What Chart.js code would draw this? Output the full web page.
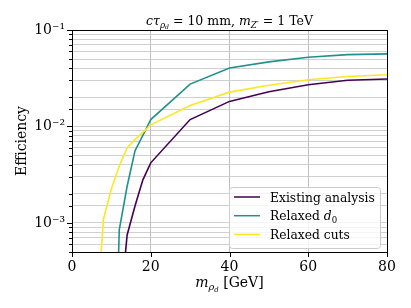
<!DOCTYPE html>
<html>
<head>
<meta charset="utf-8">
<script src="https://cdn.jsdelivr.net/npm/chart.js@4/dist/chart.umd.min.js"></script>
<style>
  body { margin: 0; background: #fff; }
  canvas { display: block; }
</style>
</head>
<body>
<canvas id="chart" width="411" height="308"></canvas>
<script>
// dark pion mass points [GeV]
const masses = [6, 8, 10, 12, 14, 16, 18, 20, 30, 40, 50, 60, 70, 80];

// efficiencies (values below 5e-4 are clipped by the axis)
const existing = [null, null, null, 1.0e-4, 7.5e-4, 1.5e-3, 2.8e-3, 4.2e-3, 0.0118, 0.0182, 0.0229, 0.0271, 0.0301, 0.0310];
const relaxedD0 = [null, null, 1e-6, 8.5e-4, 2.4e-3, 5.6e-3, 8.1e-3, 0.0118, 0.0275, 0.0404, 0.0467, 0.0521, 0.0556, 0.0565];
const relaxedCuts = [7.4e-5, 1.1e-3, 2.25e-3, 3.9e-3, 6.0e-3, 7.3e-3, 8.7e-3, 0.0104, 0.0165, 0.0227, 0.0268, 0.0305, 0.0330, 0.0344];

const seriesNames = ["Existing analysis", "Relaxed d0", "Relaxed cuts"];
const seriesColors = ["#440154", "#21918c", "#fde725"];

const xTicks = [0, 20, 40, 60, 80];
const yMin = 5e-4;
const yMax = 0.1;

const SERIF = "'DejaVu Serif', serif";
const FS = 14;

// rich text pieces (italic / subscript levels)
const titleParts = [
  { t: "c", it: 1 }, { t: "τ", it: 1 }, { t: "ρ", it: 1, l: 1 }, { t: "d", it: 1, l: 2 },
  { t: " = 10 mm, " }, { t: "m", it: 1 }, { t: "Z′", it: 1, l: 1 }, { t: " = 1 TeV" },
];
const xLabelParts = [
  { t: "m", it: 1 }, { t: "ρ", it: 1, l: 1 }, { t: "d", it: 1, l: 2 }, { t: " [GeV]" },
];
const legendParts = [
  [{ t: "Existing analysis" }],
  [{ t: "Relaxed " }, { t: "d", it: 1 }, { t: "0", l: 1 }],
  [{ t: "Relaxed cuts" }],
];

function partFont(p, base) {
  const size = base * Math.pow(0.7, p.l || 0);
  return (p.it ? "italic " : "") + size + "px " + SERIF;
}

function richWidth(ctx, parts, base) {
  let w = 0;
  parts.forEach((p) => {
    ctx.font = partFont(p, base);
    w += ctx.measureText(p.t).width;
  });
  return w;
}

function drawRich(ctx, parts, x, y, base, align) {
  let cx = x;
  if (align === "center") cx = x - richWidth(ctx, parts, base) / 2;
  ctx.textAlign = "left";
  ctx.textBaseline = "alphabetic";
  parts.forEach((p) => {
    ctx.font = partFont(p, base);
    const lvl = p.l || 0;
    const dy = lvl === 0 ? 0 : lvl === 1 ? base * 0.2 : base * 0.33;
    ctx.fillText(p.t, cx, y + dy);
    cx += ctx.measureText(p.t).width;
  });
}

function isPow10(v) {
  const e = Math.log10(v);
  return Math.abs(e - Math.round(e)) < 1e-9;
}

const sup = { "-": "⁻", "0": "⁰", "1": "¹", "2": "²", "3": "³", "4": "⁴", "5": "⁵", "6": "⁶", "7": "⁷", "8": "⁸", "9": "⁹" };

const decorations = {
  id: "decorations",
  afterDatasetsDraw(chart) {
    const ctx = chart.ctx;
    const a = chart.chartArea;
    const xs = chart.scales.x;
    const ys = chart.scales.y;
    ctx.save();

    // spines
    ctx.strokeStyle = "#000";
    ctx.lineWidth = 1;
    ctx.strokeRect(Math.round(a.left) + 0.5, Math.round(a.top) + 0.5,
      Math.round(a.right - a.left), Math.round(a.bottom - a.top));

    // tick marks
    ctx.beginPath();
    xs.ticks.forEach((t) => {
      const px = Math.round(xs.getPixelForValue(t.value)) + 0.5;
      ctx.moveTo(px, a.bottom);
      ctx.lineTo(px, a.bottom + 5);
    });
    ys.ticks.forEach((t) => {
      const py = Math.round(ys.getPixelForValue(t.value)) + 0.5;
      ctx.moveTo(a.left, py);
      ctx.lineTo(a.left - (isPow10(t.value) ? 5 : 3), py);
    });
    ctx.stroke();

    // legend
    const lx = 229, ly = 187, lw = 151, lh = 61;
    ctx.beginPath();
    ctx.roundRect(lx + 0.5, ly + 0.5, lw, lh, 3);
    ctx.fillStyle = "rgba(255,255,255,0.8)";
    ctx.fill();
    ctx.strokeStyle = "#cccccc";
    ctx.stroke();
    chart.data.datasets.forEach((ds, i) => {
      const cy = ly + 10 + i * 18.7;
      ctx.strokeStyle = ds.borderColor;
      ctx.lineWidth = 1.5;
      ctx.beginPath();
      ctx.moveTo(lx + 5, cy);
      ctx.lineTo(lx + 31, cy);
      ctx.stroke();
      ctx.fillStyle = "#000";
      drawRich(ctx, legendParts[i], lx + 41, cy + 4.5, 12.3, "left");
    });

    // title and axis labels
    ctx.fillStyle = "#000";
    drawRich(ctx, titleParts, (a.left + a.right) / 2, 25, 12.5, "center");
    drawRich(ctx, xLabelParts, (a.left + a.right) / 2, 287, FS, "center");
    ctx.translate(26, (a.top + a.bottom) / 2);
    ctx.rotate(-Math.PI / 2);
    ctx.font = FS + "px " + SERIF;
    ctx.textAlign = "center";
    ctx.textBaseline = "alphabetic";
    ctx.fillText("Efficiency", 0, 0);
    ctx.restore();
  },
};

const makeSet = (i, values, order) => ({
  label: seriesNames[i],
  data: masses.map((m, k) => ({ x: m, y: values[k] })),
  borderColor: seriesColors[i],
  backgroundColor: seriesColors[i],
  borderWidth: 1.6,
  pointRadius: 0,
  tension: 0,
  fill: false,
  order: order,
});

new Chart(document.getElementById("chart"), {
  type: "line",
  data: {
    datasets: [
      makeSet(0, existing, 3),
      makeSet(1, relaxedD0, 2),
      makeSet(2, relaxedCuts, 1),
    ],
  },
  options: {
    responsive: false,
    devicePixelRatio: 1,
    animation: false,
    layout: { padding: { top: 30, right: 24, left: 0, bottom: 0 } },
    plugins: {
      legend: { display: false },
      tooltip: { enabled: false },
      title: { display: false },
    },
    scales: {
      x: {
        type: "linear",
        min: 0,
        max: 80,
        afterFit: (s) => { s.height = 56; },
        afterBuildTicks: (s) => { s.ticks = xTicks.map((v) => ({ value: v })); },
        border: { display: false },
        grid: { color: "#b0b0b0", lineWidth: 0.8, drawTicks: false },
        ticks: {
          color: "#000",
          padding: 7,
          maxRotation: 0,
          font: { family: SERIF, size: FS },
        },
      },
      y: {
        type: "logarithmic",
        min: yMin,
        max: yMax,
        afterFit: (s) => { s.width = 72; },
        border: { display: false },
        grid: { color: "#c4c4c4", lineWidth: 0.8, drawTicks: false },
        ticks: {
          autoSkip: false,
          color: "#000",
          padding: 7,
          font: { family: SERIF, size: FS },
          callback: (v) => {
            if (!isPow10(v)) return "";
            const e = String(Math.round(Math.log10(v)));
            return "10" + e.split("").map((c) => sup[c]).join("");
          },
        },
      },
    },
  },
  plugins: [decorations],
});
</script>
</body>
</html>
